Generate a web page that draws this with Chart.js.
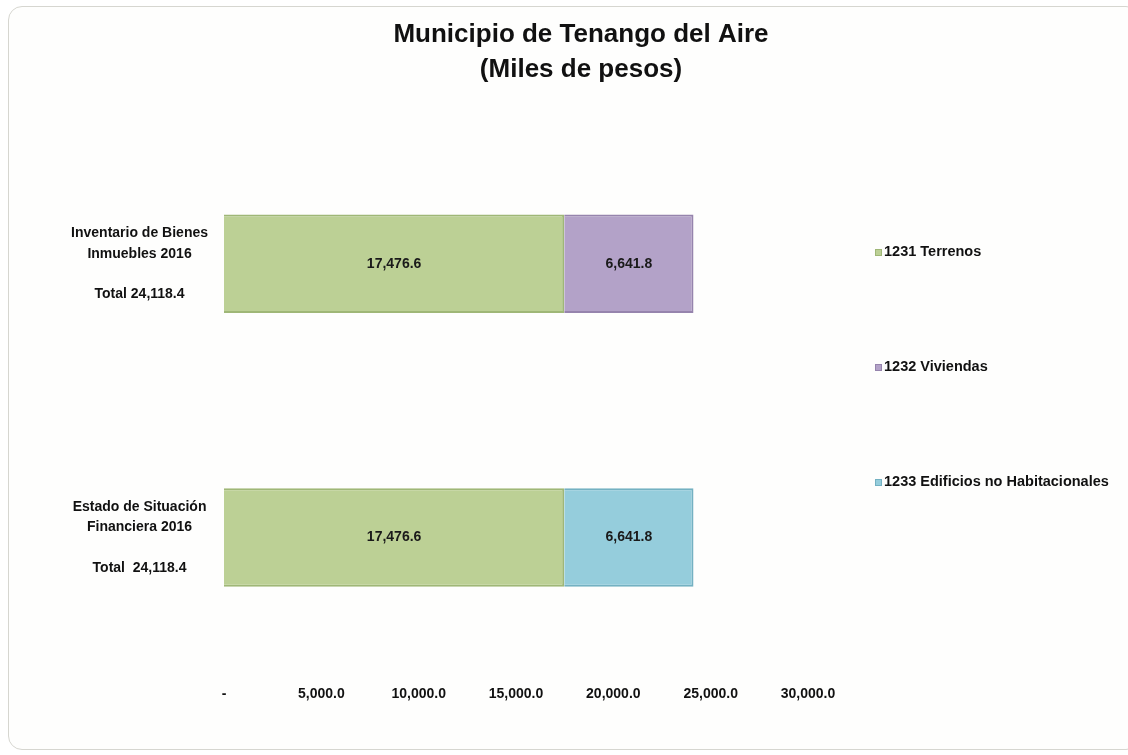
<!DOCTYPE html>
<html>
<head>
<meta charset="utf-8">
<script src="https://cdn.jsdelivr.net/npm/chart.js@4/dist/chart.umd.min.js"></script>
<style>
  html, body { margin: 0; padding: 0; background: #fff; }
  .frame {
    position: absolute; left: 8px; top: 6px; width: 1130px; height: 742px;
    border: 1px solid #d6d6d0; border-radius: 14px; background: #fefefd;
  }
  .chart-box { position: absolute; left: 0; top: 0; width: 1128px; height: 755px; }
</style>
</head>
<body>
<div class="frame"></div>
<div class="chart-box"><canvas id="chart"></canvas></div>
<script>
const FONT = '"Liberation Sans Narrow", "Liberation Sans", Arial, sans-serif';

const titleLines = ["Municipio de Tenango del Aire", "(Miles de pesos)"];
const categories = [
  ["Inventario de Bienes", "Inmuebles 2016", "", "Total 24,118.4"],
  ["Estado de Situación", "Financiera 2016", "", "Total  24,118.4"]
];
const terrenos = [17476.6, 17476.6];
const viviendas = [6641.8, 0];
const edificios = [0, 6641.8];
const seriesNames = ["1231 Terrenos", "1232 Viviendas", "1233 Edificios no Habitacionales"];
const xTicks = [0, 5000, 10000, 15000, 20000, 25000, 30000];

const fmt = (v) => v.toLocaleString("en-US", { minimumFractionDigits: 1, maximumFractionDigits: 1 });

// title centred on the whole canvas
const pageTitle = {
  id: "pageTitle",
  afterDraw(chart) {
    const ctx = chart.ctx;
    ctx.save();
    ctx.font = "bold 26px " + FONT;
    ctx.fillStyle = "#111";
    ctx.textAlign = "center";
    ctx.textBaseline = "middle";
    ctx.fillText(titleLines[0], 581, 35);
    ctx.fillText(titleLines[1], 581, 70);
    ctx.restore();
  }
};

// labels inside bars
const barLabels = {
  id: "barLabels",
  afterDatasetsDraw(chart) {
    const ctx = chart.ctx;
    ctx.save();
    ctx.font = "bold 14px " + FONT;
    ctx.fillStyle = "#1a1a1a";
    ctx.textAlign = "center";
    ctx.textBaseline = "middle";
    chart.data.datasets.forEach((ds, i) => {
      chart.getDatasetMeta(i).data.forEach((bar, j) => {
        const v = ds.data[j];
        if (!v) return;
        const p = bar.getProps(["x", "y", "base"], true);
        ctx.fillText(fmt(v), (p.x + p.base) / 2, p.y);
      });
    });
    ctx.restore();
  }
};

// legend on the right, spread vertically
const sideLegend = {
  id: "sideLegend",
  afterDraw(chart) {
    const ctx = chart.ctx;
    const ys = [252, 367, 482];
    ctx.save();
    ctx.font = "bold 14.5px " + FONT;
    ctx.textBaseline = "middle";
    ctx.textAlign = "left";
    chart.data.datasets.forEach((ds, i) => {
      ctx.fillStyle = ds.backgroundColor;
      ctx.fillRect(875, ys[i] - 3, 7, 7);
      ctx.strokeStyle = ds.borderColor;
      ctx.lineWidth = 1;
      ctx.strokeRect(875.5, ys[i] - 2.5, 6, 6);
      ctx.fillStyle = "#111";
      ctx.fillText(ds.label, 884, ys[i]);
    });
    ctx.restore();
  }
};

const ctx = document.getElementById("chart").getContext("2d");
new Chart(ctx, {
  type: "bar",
  data: {
    labels: categories,
    datasets: [
      { label: seriesNames[0], data: terrenos, backgroundColor: "#bcd095", borderColor: "#9fb777" },
      { label: seriesNames[1], data: viviendas, backgroundColor: "#b3a2c8", borderColor: "#9684ad" },
      { label: seriesNames[2], data: edificios, backgroundColor: "#95cddc", borderColor: "#74b1c2" }
    ].map(d => Object.assign(d, { borderWidth: 2, barPercentage: 0.36, categoryPercentage: 1 }))
  },
  options: {
    indexAxis: "y",
    responsive: true,
    maintainAspectRatio: false,
    animation: false,
    layout: { padding: { left: 44, right: 320, top: 127, bottom: 40 } },
    plugins: {
      legend: { display: false },
      tooltip: { enabled: false },
      title: { display: false }
    },
    scales: {
      x: {
        stacked: true,
        min: 0,
        max: 30000,
        afterBuildTicks: (scale) => { scale.ticks = xTicks.map(v => ({ value: v })); },
        grid: { display: false, drawTicks: false },
        border: { display: false },
        ticks: {
          color: "#111",
          padding: 12,
          font: { family: FONT, size: 14, weight: "bold" },
          callback: (v) => (v === 0 ? "-" : fmt(v))
        }
      },
      y: {
        stacked: true,
        afterFit: (scale) => { scale.width = 180; },
        grid: { display: false, drawTicks: false },
        border: { display: false },
        ticks: {
          color: "#111",
          crossAlign: "center",
          padding: 16,
          font: { family: FONT, size: 14, weight: "bold", lineHeight: 1.45 }
        }
      }
    }
  },
  plugins: [barLabels, sideLegend, pageTitle]
});
</script>
</body>
</html>
